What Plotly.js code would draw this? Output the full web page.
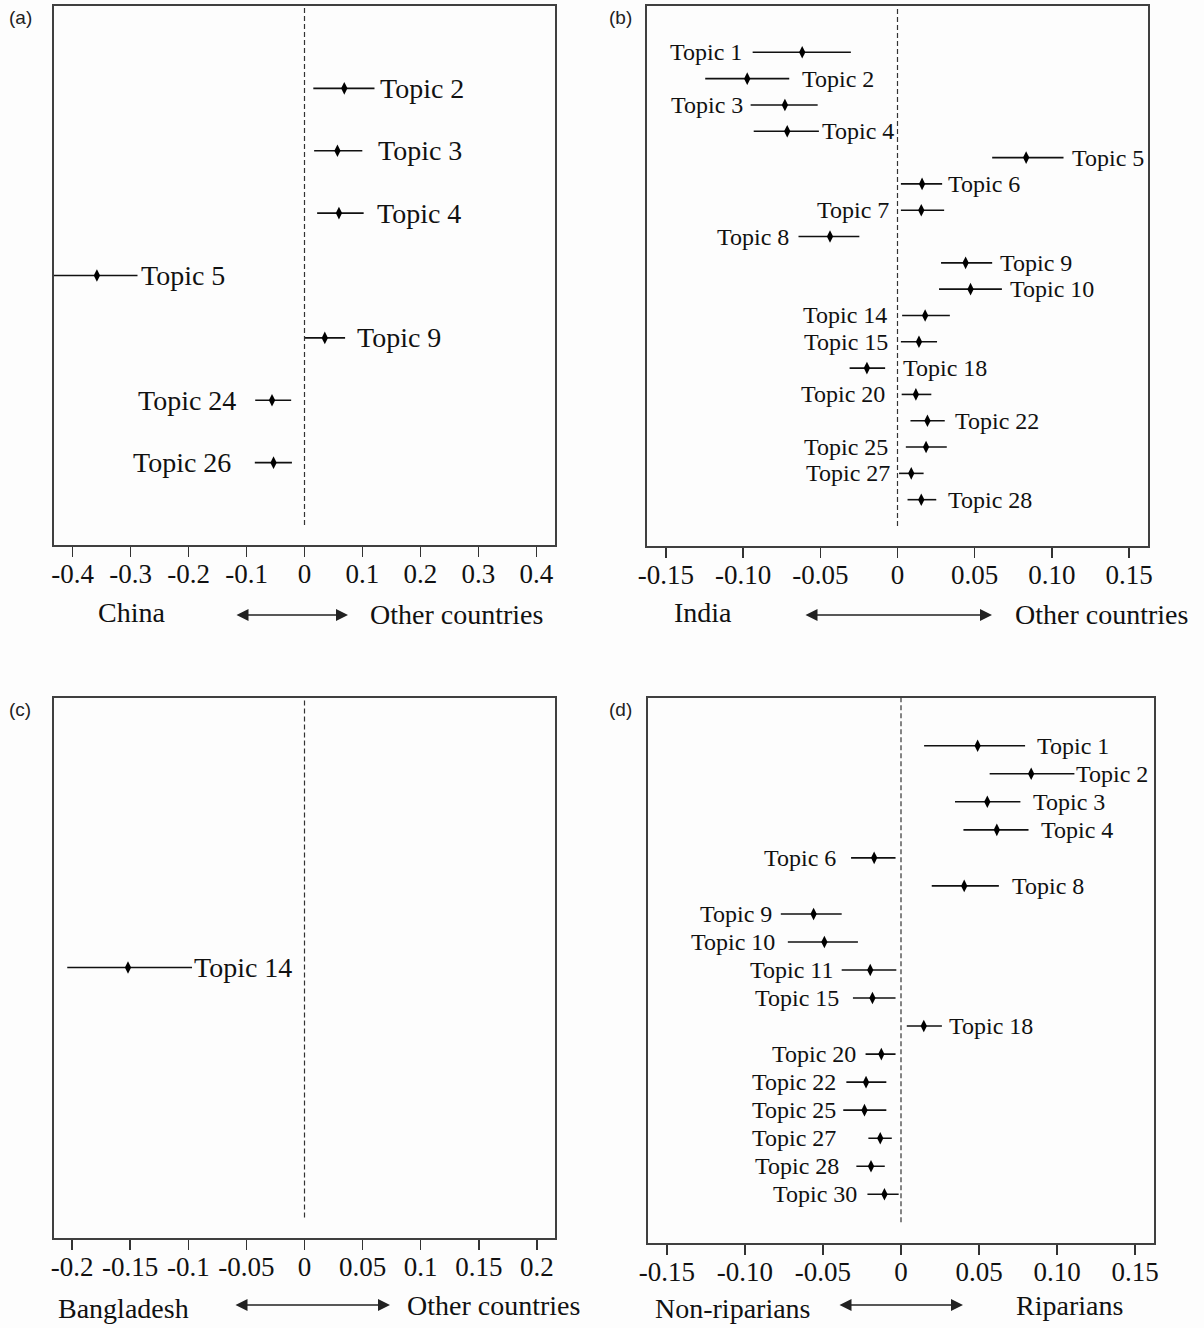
<!DOCTYPE html>
<html>
<head>
<meta charset="utf-8">
<script src="https://cdn.plot.ly/plotly-3.0.1.min.js"></script>
<style>
  html, body { margin: 0; padding: 0; background: #fdfdfd; }
  #chart { width: 1204px; height: 1328px; }
</style>
</head>
<body>
<div id="chart"></div>
<script>
// ---------------- DATA ----------------
// Panel (a): China vs other countries
const topicsA = ['Topic 2', 'Topic 3', 'Topic 4', 'Topic 5', 'Topic 9', 'Topic 24', 'Topic 26'];
const estA = [0.0686, 0.0568, 0.0594, -0.358, 0.035, -0.056, -0.0534];
const loA  = [0.0152, 0.0166, 0.0218, -0.45, 0.0, -0.085, -0.0857];
const hiA  = [0.1207, 0.0997, 0.102, -0.288, 0.070, -0.023, -0.0217];

// Panel (b): India vs other countries
const topicsB = ['Topic 1', 'Topic 2', 'Topic 3', 'Topic 4', 'Topic 5', 'Topic 6', 'Topic 7', 'Topic 8', 'Topic 9',
                 'Topic 10', 'Topic 14', 'Topic 15', 'Topic 18', 'Topic 20', 'Topic 22', 'Topic 25', 'Topic 27', 'Topic 28'];
const estB = [-0.0617, -0.0973, -0.0729, -0.0714, 0.0833, 0.0159, 0.0154, -0.0437, 0.0441,
              0.0473, 0.0179, 0.0139, -0.0198, 0.0119, 0.0194, 0.0185, 0.0089, 0.0154];
const loB  = [-0.0938, -0.1245, -0.0951, -0.0931, 0.0613, 0.0022, 0.0022, -0.0641, 0.0282,
              0.0269, 0.0030, 0.0022, -0.031, 0.0027, 0.0084, 0.0054, 0.0010, 0.0065];
const hiB  = [-0.0302, -0.0701, -0.0517, -0.0509, 0.1075, 0.0289, 0.0302, -0.0247, 0.0613,
              0.0676, 0.0339, 0.0256, -0.008, 0.0219, 0.0306, 0.0319, 0.0169, 0.0251];

// Panel (c): Bangladesh vs other countries
const topicsC = ['Topic 14'];
const estC = [-0.1519];
const loC  = [-0.2042];
const hiC  = [-0.0968];

// Panel (d): Non-riparians vs riparians
const topicsD = ['Topic 1', 'Topic 2', 'Topic 3', 'Topic 4', 'Topic 6', 'Topic 8', 'Topic 9', 'Topic 10', 'Topic 11',
                 'Topic 15', 'Topic 18', 'Topic 20', 'Topic 22', 'Topic 25', 'Topic 27', 'Topic 28', 'Topic 30'];
const estD = [0.0491, 0.0834, 0.0553, 0.0614, -0.0172, 0.0405, -0.056, -0.0491, -0.0197,
              -0.0183, 0.0146, -0.0126, -0.0224, -0.0234, -0.0133, -0.0192, -0.0106];
const loD  = [0.0148, 0.0568, 0.0346, 0.0400, -0.032, 0.0197, -0.077, -0.0725, -0.038,
              -0.0308, 0.0037, -0.0227, -0.035, -0.037, -0.0209, -0.0286, -0.0215];
const hiD  = [0.0795, 0.1111, 0.0765, 0.0817, -0.0035, 0.0627, -0.038, -0.0276, -0.003,
              -0.0035, 0.0262, -0.0035, -0.0094, -0.0094, -0.0059, -0.0104, -0.0015];

// Tick labels
const ticksA = ['-0.4', '-0.3', '-0.2', '-0.1', '0', '0.1', '0.2', '0.3', '0.4'];
const ticksB = ['-0.15', '-0.10', '-0.05', '0', '0.05', '0.10', '0.15'];
const ticksC = ['-0.2', '-0.15', '-0.1', '-0.05', '0', '0.05', '0.1', '0.15', '0.2'];
const ticksD = ['-0.15', '-0.10', '-0.05', '0', '0.05', '0.10', '0.15'];

// ---------------- STYLE / LAYOUT CONFIG ----------------
// label placement: side of the interval and gap in px
const sideA = ['R', 'R', 'R', 'R', 'R', 'L', 'L'];
const gapA  = [4, 14, 11, 1, 10, 17, 22];
const sideB = ['L', 'R', 'L', 'R', 'R', 'R', 'L', 'L', 'R', 'R', 'L', 'L', 'R', 'L', 'R', 'L', 'L', 'R'];
const gapB  = [9, 11, 6, 1, 6, 4, 10, 8, 6, 6, 13, 11, 16, 15, 8, 16, 7, 10];
const sideC = ['R'];
const gapC  = [0];
const sideD = ['R', 'R', 'R', 'R', 'L', 'R', 'L', 'L', 'L', 'L', 'R', 'L', 'L', 'L', 'L', 'L', 'L'];
const gapD  = [10, 0, 11, 10, 13, 11, 7, 11, 7, 12, 5, 8, 8, 5, 30, 15, 8];

const W = 1204, H = 1328;
const SERIF = "'Liberation Serif', 'Times New Roman', serif";
const SANS = "'Liberation Sans', Arial, sans-serif";
const px = v => v / W;
const py = v => 1 - v / H;

const panels = [
  { key: '', topics: topicsA, est: estA, lo: loA, hi: hiA, side: sideA, gap: gapA,
    ticks: ticksA, box: [54, 555, 6, 545], xr: 0.432, lab: 28, letter: '(a)', letterPos: [20, 17],
    left: ['China', 131.5, 612], right: ['Other countries', 456, 614], arrow: [235, 348, 615] },
  { key: '2', topics: topicsB, est: estB, lo: loB, hi: hiB, side: sideB, gap: gapB,
    ticks: ticksB, box: [647, 1148, 6, 546], xr: 0.1622, lab: 24, letter: '(b)', letterPos: [620, 17],
    left: ['India', 703, 612], right: ['Other countries', 1101.5, 614], arrow: [804, 992, 615] },
  { key: '3', topics: topicsC, est: estC, lo: loC, hi: hiC, side: sideC, gap: gapC,
    ticks: ticksC, box: [54, 555, 697.5, 1237.5], xr: 0.2156, lab: 28, letter: '(c)', letterPos: [20, 709],
    left: ['Bangladesh', 123.5, 1308], right: ['Other countries', 493, 1305], arrow: [234, 390, 1305] },
  { key: '4', topics: topicsD, est: estD, lo: loD, hi: hiD, side: sideD, gap: gapD,
    ticks: ticksD, box: [648, 1154, 697.5, 1242.5], xr: 0.1621, lab: 24, letter: '(d)', letterPos: [620.5, 709],
    left: ['Non-riparians', 732.5, 1308], right: ['Riparians', 1069, 1305], arrow: [838, 963, 1305] }
];

const data = [];
const shapes = [];
const annotations = [];
const layout = {
  width: W, height: H,
  margin: { l: 0, r: 0, t: 0, b: 0 },
  paper_bgcolor: '#fdfdfd',
  plot_bgcolor: '#fdfdfd',
  showlegend: false,
  font: { family: SERIF, color: '#111' }
};

panels.forEach(p => {
  const n = p.topics.length;
  const rows = p.topics.map((_, i) => i + 1);
  const xa = 'x' + p.key, ya = 'y' + p.key;
  const pad = 0.04 * (n + 1);

  data.push({
    type: 'scatter', mode: 'markers',
    x: p.est, y: rows, xaxis: xa, yaxis: ya,
    marker: { symbol: 'diamond-tall', size: 9, color: '#000' },
    error_x: {
      type: 'data', symmetric: false,
      array: p.hi.map((h, i) => h - p.est[i]),
      arrayminus: p.lo.map((l, i) => p.est[i] - l),
      width: 0, thickness: 1.6, color: '#111'
    },
    hoverinfo: 'skip'
  });

  const tickvals = p.ticks.map(t => parseFloat(t));

  layout['xaxis' + p.key] = {
    domain: [px(p.box[0]), px(p.box[1])],
    anchor: ya,
    range: [-p.xr, p.xr],
    tickmode: 'array', tickvals: tickvals, ticktext: p.ticks,
    ticks: 'outside', ticklen: 10, tickwidth: 1.5, tickcolor: '#333',
    tickangle: 0, ticklabelstandoff: -6,
    tickfont: { family: SERIF, size: 27, color: '#111' },
    showline: true, mirror: true, linecolor: '#404040', linewidth: 2,
    showgrid: false, zeroline: false, fixedrange: true
  };
  layout['yaxis' + p.key] = {
    domain: [py(p.box[3]), py(p.box[2])],
    anchor: xa,
    range: [n + 1 + pad, -pad],
    showticklabels: false, ticks: '',
    showline: true, mirror: true, linecolor: '#404040', linewidth: 2,
    showgrid: false, zeroline: false, fixedrange: true
  };

  // dashed reference line at 0
  shapes.push({
    type: 'line', xref: xa, yref: ya,
    x0: 0, x1: 0, y0: n + 1, y1: -pad,
    line: { color: '#333', width: 1.2, dash: '5px,3px' }
  });

  // topic labels
  p.topics.forEach((t, i) => {
    const right = p.side[i] === 'R';
    annotations.push({
      xref: xa, yref: ya,
      x: right ? p.hi[i] : p.lo[i], y: rows[i],
      xshift: right ? p.gap[i] : -p.gap[i],
      xanchor: right ? 'left' : 'right', yanchor: 'middle',
      text: t, showarrow: false,
      font: { family: SERIF, size: p.lab, color: '#111' }
    });
  });

  // panel letter
  annotations.push({
    xref: 'paper', yref: 'paper', x: px(p.letterPos[0]), y: py(p.letterPos[1]),
    xanchor: 'center', yanchor: 'middle', text: p.letter, showarrow: false,
    font: { family: SANS, size: 19, color: '#222' }
  });

  // bottom labels
  [p.left, p.right].forEach(l => {
    annotations.push({
      xref: 'paper', yref: 'paper', x: px(l[1]), y: py(l[2]),
      xanchor: 'center', yanchor: 'middle', text: l[0], showarrow: false,
      font: { family: SERIF, size: 28, color: '#111' }
    });
  });

  // double-headed arrow
  annotations.push({
    xref: 'paper', yref: 'paper',
    x: px(p.arrow[1]), y: py(p.arrow[2]),
    ax: -(p.arrow[1] - p.arrow[0]), ay: 0,
    text: '', showarrow: true,
    arrowhead: 2, arrowside: 'end+start', arrowsize: 1.6, arrowwidth: 1.5,
    arrowcolor: '#222', standoff: 0, startstandoff: 0
  });
});

layout.shapes = shapes;
layout.annotations = annotations;

Plotly.newPlot('chart', data, layout, { displayModeBar: false, staticPlot: true });
</script>
</body>
</html>
